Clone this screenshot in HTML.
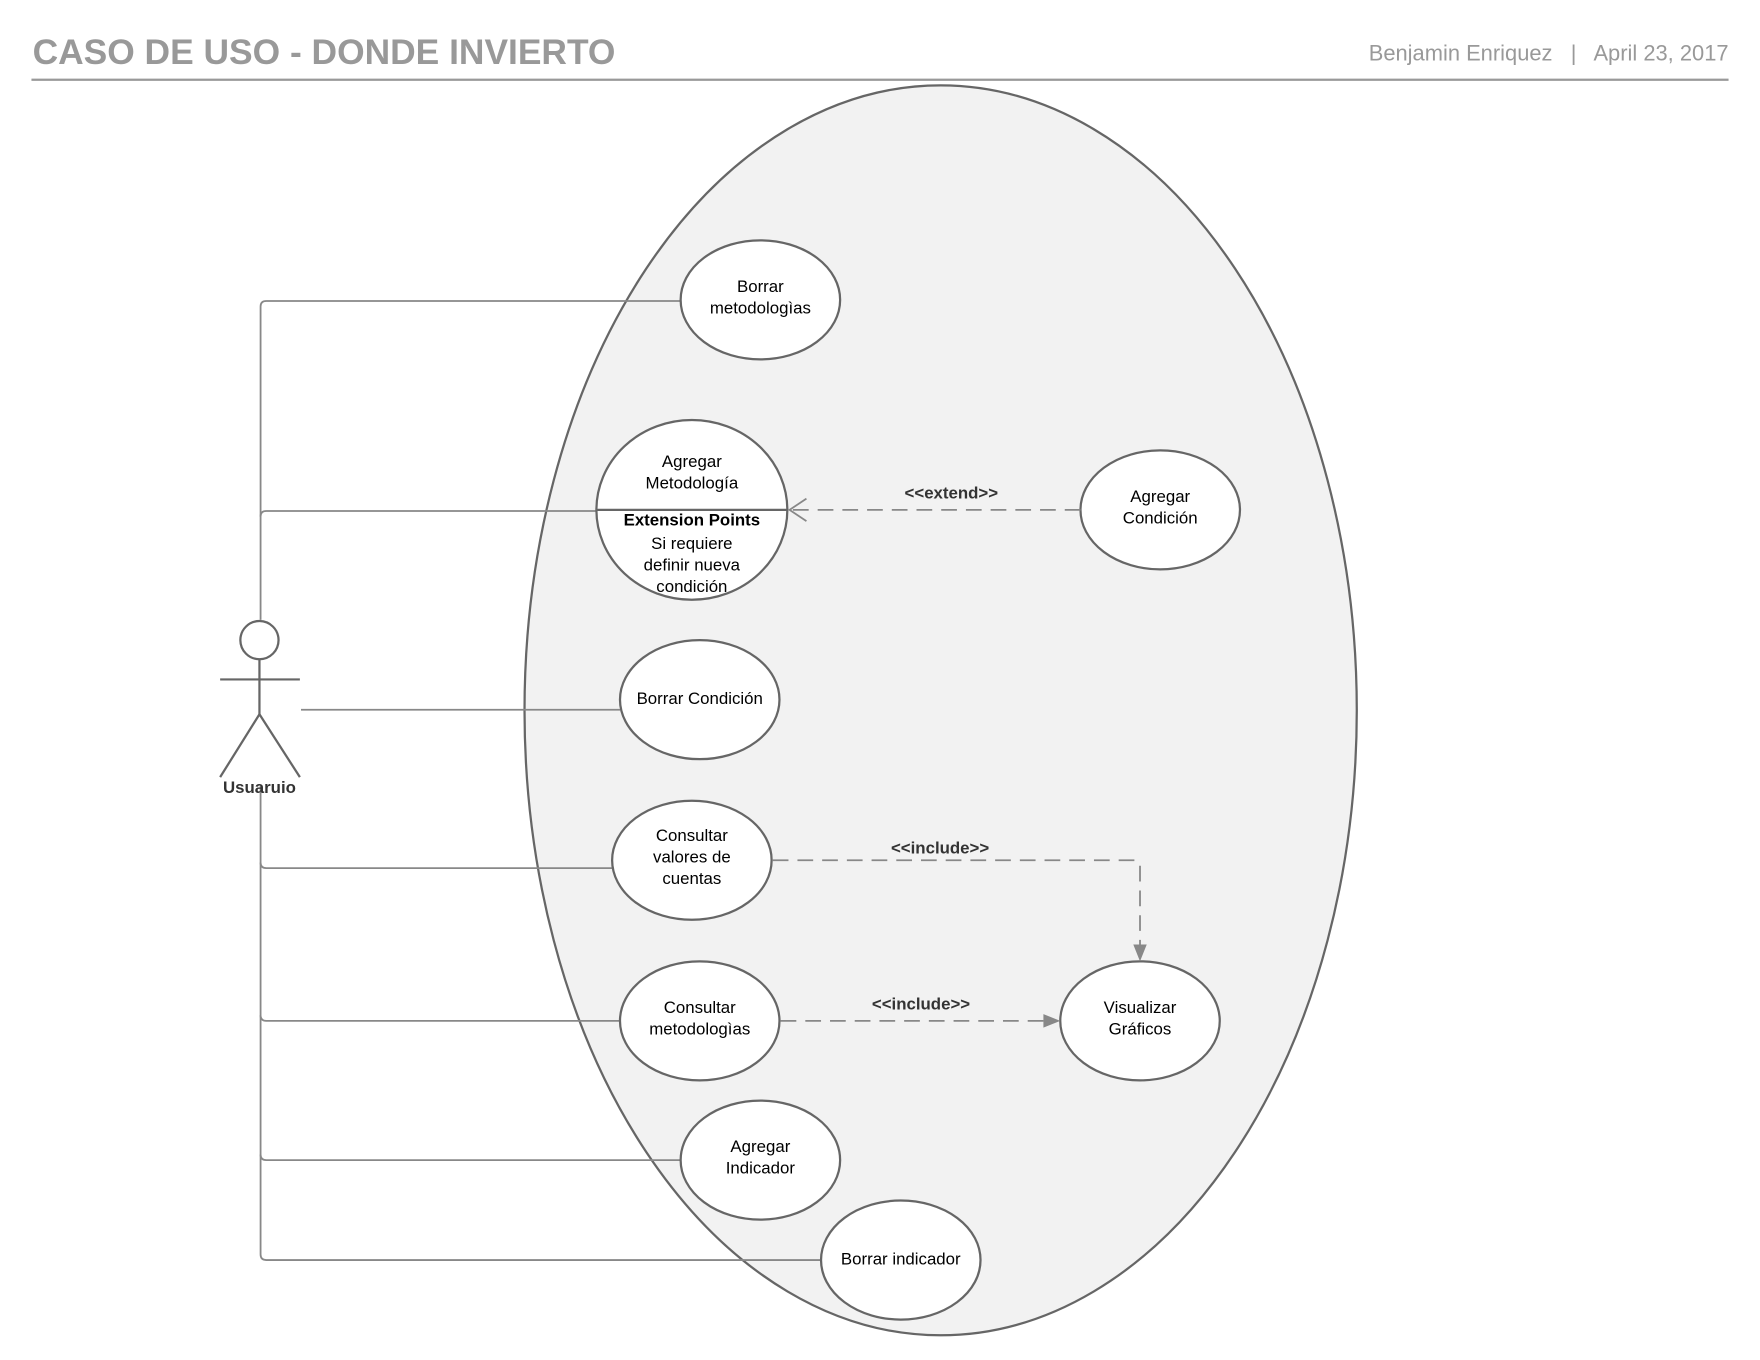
<!DOCTYPE html>
<html><head><meta charset="utf-8"><style>
html,body{margin:0;padding:0;background:#fff;}
svg{display:block;}
text{font-family:"Liberation Sans",Arial,sans-serif;}
.t{font-size:15px;fill:#000;text-anchor:middle;}
.b{font-weight:bold;}
.l{font-size:15px;font-weight:bold;fill:#333;text-anchor:middle;}
.uc{fill:#fff;stroke:#666;stroke-width:2;}
.ln{fill:none;stroke:#888;stroke-width:1.6;}
.dash{fill:none;stroke:#888;stroke-width:1.6;stroke-dasharray:14 8;}
</style></head><body>
<svg width="1760" height="1360" viewBox="0 0 1567 1211" preserveAspectRatio="none">
<text x="29" y="57" style="font-size:31.5px;font-weight:bold;fill:#999;">CASO DE USO - DONDE INVIERTO</text>
<text x="1539" y="54" style="font-size:19.5px;fill:#999;text-anchor:end;">Benjamin Enriquez &#160;&#160;|&#160;&#160; April 23, 2017</text>
<line x1="28" y1="71" x2="1539" y2="71" stroke="#999" stroke-width="2"/>
<ellipse cx="837.5" cy="632.5" rx="370.5" ry="556.5" fill="#f2f2f2" stroke="#666" stroke-width="2"/>
<path class="ln" d="M606 268 H237 Q232 268 232 273 V552"/>
<path class="ln" d="M531 455 H237 Q232 455 232 460"/>
<line class="ln" x1="268" y1="632" x2="552" y2="632"/>
<path class="ln" d="M232 700 V1117 Q232 1122 237 1122 H731"/>
<path class="ln" d="M232 768 Q232 773 237 773 H558"/>
<path class="ln" d="M232 904 Q232 909 237 909 H552"/>
<path class="ln" d="M232 1028 Q232 1033 237 1033 H606"/>
<circle cx="231" cy="570" r="17" fill="#fff" stroke="#666" stroke-width="2"/>
<line x1="231" y1="587" x2="231" y2="636" stroke="#666" stroke-width="2"/>
<line x1="196" y1="605" x2="267" y2="605" stroke="#666" stroke-width="2"/>
<polyline points="196,692 231,636 267,692" fill="none" stroke="#666" stroke-width="2"/>
<text x="231" y="706" class="l">Usuaruio</text>
<ellipse class="uc" cx="677" cy="267" rx="71" ry="53"/>
<text class="t" x="677" y="260">Borrar</text><text class="t" x="677" y="279">metodologìas</text>
<ellipse class="uc" cx="616" cy="454" rx="85" ry="80"/>
<line x1="531" y1="454" x2="701" y2="454" stroke="#666" stroke-width="2"/>
<text class="t" x="616" y="416">Agregar</text><text class="t" x="616" y="435">Metodología</text>
<text class="t b" x="616" y="468">Extension Points</text>
<text class="t" x="616" y="489">Si requiere</text><text class="t" x="616" y="508">definir nueva</text><text class="t" x="616" y="527">condición</text>
<ellipse class="uc" cx="1033" cy="454" rx="71" ry="53"/>
<text class="t" x="1033" y="447">Agregar</text><text class="t" x="1033" y="466">Condición</text>
<ellipse class="uc" cx="623" cy="623" rx="71" ry="53"/>
<text class="t" x="623" y="627">Borrar Condición</text>
<ellipse class="uc" cx="616" cy="766" rx="71" ry="53"/>
<text class="t" x="616" y="749">Consultar</text><text class="t" x="616" y="768">valores de</text><text class="t" x="616" y="787">cuentas</text>
<ellipse class="uc" cx="623" cy="909" rx="71" ry="53"/>
<text class="t" x="623" y="902">Consultar</text><text class="t" x="623" y="921">metodologìas</text>
<ellipse class="uc" cx="1015" cy="909" rx="71" ry="53"/>
<text class="t" x="1015" y="902">Visualizar</text><text class="t" x="1015" y="921">Gráficos</text>
<ellipse class="uc" cx="677" cy="1033" rx="71" ry="53"/>
<text class="t" x="677" y="1026">Agregar</text><text class="t" x="677" y="1045">Indicador</text>
<ellipse class="uc" cx="802" cy="1122" rx="71" ry="53"/>
<text class="t" x="802" y="1126">Borrar indicador</text>
<path class="dash" d="M962 454 H704"/>
<polyline points="718,444 703,454 718,464" fill="none" stroke="#888" stroke-width="1.6"/>
<text class="l" x="847" y="444">&lt;&lt;extend&gt;&gt;</text>
<path class="dash" d="M688 766 H1010 Q1015 766 1015 771 V842"/>
<polygon points="1009,841 1021,841 1015,856" fill="#888"/>
<text class="l" x="837" y="760">&lt;&lt;include&gt;&gt;</text>
<path class="dash" d="M695 909 H930"/>
<polygon points="929,903 929,915 944,909" fill="#888"/>
<text class="l" x="820" y="899">&lt;&lt;include&gt;&gt;</text>
</svg>
</body></html>
